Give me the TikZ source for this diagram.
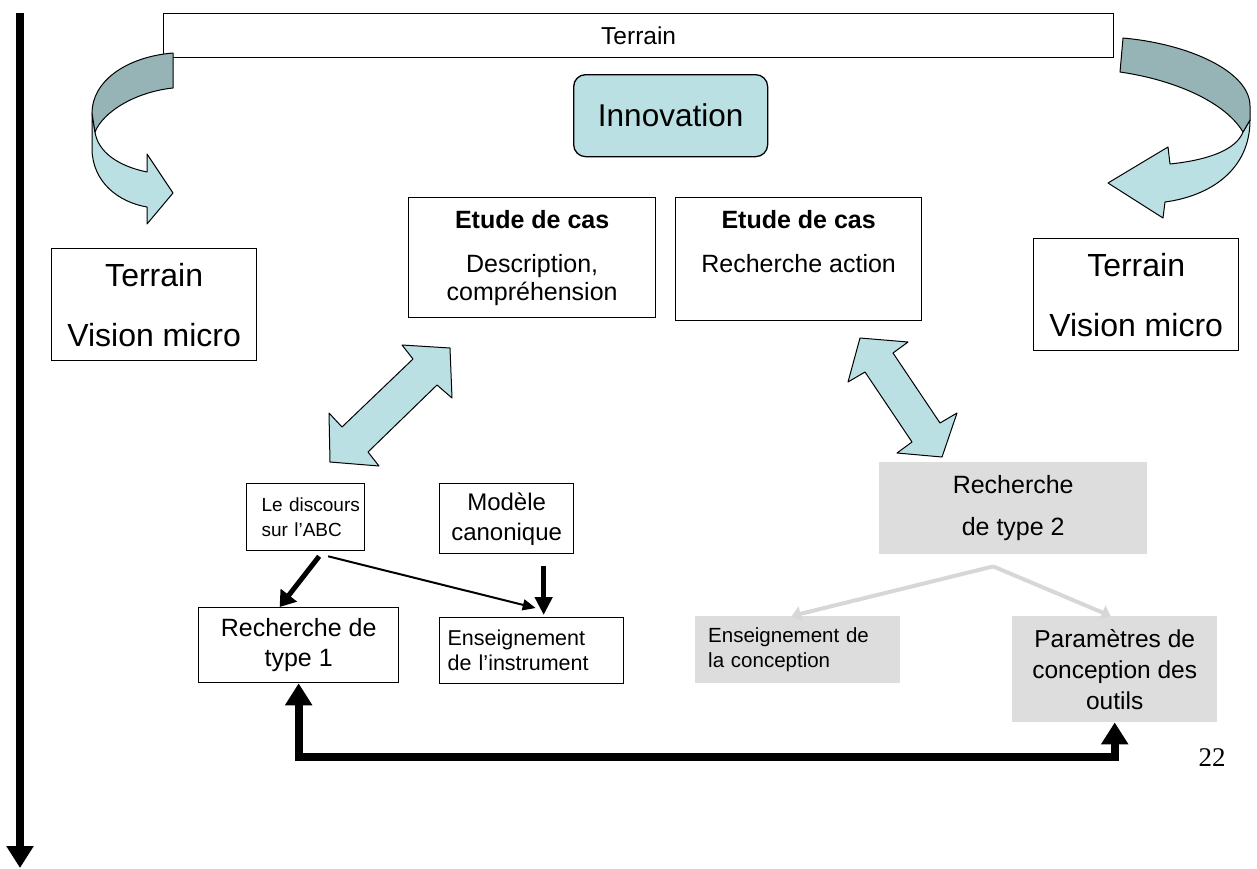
\documentclass[tikz,border=0pt]{standalone}
\usepackage{fontspec}
\setmainfont{Liberation Sans}
\newfontfamily\pagenumfont{Liberation Serif}
\usetikzlibrary{arrows.meta,calc}
\definecolor{tealLight}{RGB}{187,224,227}
\definecolor{tealDark}{RGB}{150,179,182}
\definecolor{greyFill}{RGB}{221,221,221}
\definecolor{greyLine}{RGB}{215,215,215}
\newcommand{\fsz}[2]{\fontsize{#1}{#2}\selectfont}
\begin{document}
\begin{tikzpicture}[x=1pt,y=-1pt,
  box/.style={draw, line width=1.3pt, inner sep=0pt, anchor=north west, align=center},
  greybox/.style={fill=greyFill, inner sep=0pt, anchor=north west, align=center},
  ribbon/.style={draw, line width=1pt, line join=round},
  bigtip/.style={line width=8pt},
  head/.tip={Triangle[length=22pt,width=26pt]},
]
\useasboundingbox (0,0) rectangle (1257,868);

% time axis on the left
\coordinate (tTop) at (20,13);
\coordinate (tEnd) at (20,868);
\draw[bigtip, -{head}] (tTop) -- (tEnd);

% field banner and innovation
\node[box, minimum width=950pt, minimum height=44pt, font=\fsz{24.5}{28}] (field) at (163,13) {Terrain};
\node[box, rounded corners=12pt, fill=tealLight, minimum width=194pt, minimum height=82pt, font=\fsz{31.5}{38}] (innov) at (573,74) {Innovation};

% curved ribbon arrow, left
\filldraw[ribbon, fill=tealLight]
  (92,113) -- (92,150) .. controls (93,182) and (118,202) .. (147,207)
  -- (147,224) -- (173,193) -- (147,154) -- (147,172)
  .. controls (118,166) and (98,152) .. (95,132) -- cycle;
\filldraw[ribbon, fill=tealDark]
  (173,53) .. controls (125,57) and (92,82) .. (92,113) -- (95,132)
  .. controls (103,112) and (135,92) .. (173,88) -- cycle;

% curved ribbon arrow, right
\filldraw[ribbon, fill=tealLight]
  (1250,120) .. controls (1250,170) and (1210,196) .. (1165,202)
  -- (1163,218) -- (1108,183) -- (1168,147) -- (1170,164)
  .. controls (1208,160) and (1236,150) .. (1243,132) -- cycle;
\filldraw[ribbon, fill=tealDark]
  (1123,38) .. controls (1190,44) and (1250,72) .. (1250,106) -- (1250,120) -- (1243,132)
  .. controls (1225,102) and (1175,80) .. (1120,72) -- cycle;

% micro-level field boxes
\node[box, minimum width=205pt, minimum height=112pt, font=\fsz{32}{60}] (microL) at (51,248) {Terrain\\Vision micro};
\node[box, minimum width=205pt, minimum height=112pt, font=\fsz{32}{60}] (microR) at (1033,238) {Terrain\\Vision micro};

% case studies
\node[box, minimum width=247pt, minimum height=120pt, font=\fsz{25}{28}] (case1) at (408,197)
  {\textbf{Etude de cas}\\[16pt]Description,\\compréhension};
\node[box, minimum width=246pt, minimum height=123pt, font=\fsz{25}{28}] (case2) at (675,197)
  {\textbf{Etude de cas}\\[16pt]Recherche action\\\strut};

% double block arrows
\filldraw[ribbon, fill=tealLight]
  (450,348) -- (452,398) -- (437,385) -- (368,452) -- (379,466) -- (330,462)
  -- (329,413) -- (342,427) -- (413,359) -- (402,345) -- cycle;
\filldraw[ribbon, fill=tealLight]
  (860,338) -- (908,342) -- (893,353) -- (940,423) -- (957,413) -- (942,457)
  -- (897,453) -- (912,442) -- (865,372) -- (848,382) -- cycle;

% type 1 side
\node[box, text width=118pt, minimum height=67pt, align=left, font=\fsz{19}{25}] (disc) at (246,483)
  {\hspace*{15pt}Le discours\\\hspace*{15pt}sur l’ABC};
\node[box, minimum width=134pt, minimum height=70pt, font=\fsz{24}{30}] (model) at (439,483) {Modèle\\canonique};
\node[box, minimum width=200pt, minimum height=75pt, font=\fsz{25}{30}] (rech1) at (198,607) {Recherche de\\type 1};
\node[box, text width=168pt, inner xsep=8pt, minimum height=66pt, align=left, font=\fsz{21.5}{25}] (ensI) at (439,617) {Enseignement\\de l’instrument};

\draw[line width=5pt, -{Triangle[length=15pt,width=20pt]}] ($(disc.south)+(13.5,5)$) -- ($(rech1.north)+(-19,0)$);
\draw[line width=2pt, -{Triangle[length=13pt,width=11pt]}] ($(disc.south)+(22.5,5)$) -- ($(ensI.north)+(4,-9)$);
\draw[line width=5pt, -{Triangle[length=18pt,width=17pt]}] ($(model.south)+(37,12)$) -- ($(ensI.north)+(12,-2)$);

% type 2 side
\node[greybox, minimum width=268pt, minimum height=92pt, font=\fsz{25}{42}] (type2) at (879,462) {Recherche\\de type 2};
\node[greybox, text width=179pt, inner xsep=13pt, minimum height=67pt, align=left, font=\fsz{20.5}{25}] (ensC) at (695,616) {Enseignement de\\la conception};
\node[greybox, minimum width=205pt, minimum height=106pt, font=\fsz{24.5}{31}] (param) at (1012,616) {Paramètres de\\conception des\\outils};

\draw[greyLine, line width=4pt, -{Triangle[length=9pt,width=15pt]}] ($(type2.south)+(-20,12)$) -- ($(ensC.north)+(-6,0)$);
\draw[greyLine, line width=4pt, -{Triangle[length=9pt,width=15pt]}] ($(type2.south)+(-20,12)$) -- ($(param.north)+(-4,0)$);

% link between the two research types
\draw[bigtip, line join=miter, {head}-{head}] (rech1.south) -- (rech1.south |- 0,757) -- (param.south |- 0,757) -- (param.south);

\node[font=\pagenumfont\fsz{27}{30}] (pagenum) at (1212,758) {22};
\end{tikzpicture}
\end{document}
